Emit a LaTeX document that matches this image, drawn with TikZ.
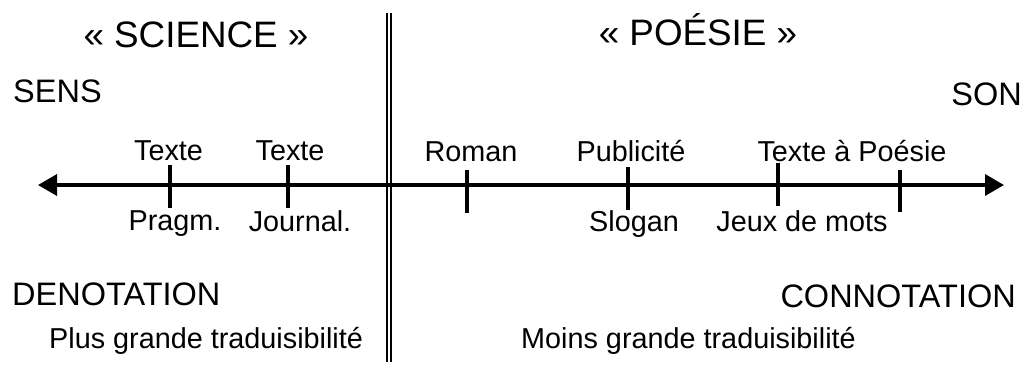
\documentclass[tikz,border=0pt]{standalone}
\usepackage{fontspec}
\setmainfont{Liberation Sans}
\usetikzlibrary{arrows.meta}
\begin{document}
\begin{tikzpicture}[x=1pt,y=-1pt,
  head/.style={font=\fontsize{36.8}{40}\selectfont, anchor=base, inner sep=0pt},
  big/.style={font=\fontsize{32.5}{36}\selectfont, inner sep=0pt},
  lbl/.style={font=\fontsize{28.8}{32}\selectfont, anchor=base, inner sep=0pt},
  trad/.style={font=\fontsize{28.8}{33}\selectfont, anchor=base west, inner sep=0pt},
  axisline/.style={line width=3.6pt, {Triangle[length=19pt,width=21pt]}-{Triangle[length=19pt,width=21pt]}},
  tick/.style={line width=3.4pt},
  sepline/.style={line width=1.6pt}]
\useasboundingbox (0,0) rectangle (1023,365);
% separator
\coordinate (s1t) at (386.7,13); \coordinate (s1b) at (386.7,362);
\coordinate (s2t) at (390.7,13); \coordinate (s2b) at (390.7,362);
\draw[sepline] (s1t) -- (s1b);
\draw[sepline] (s2t) -- (s2b);
% axis
\coordinate (axl) at (38,185);
\coordinate (axr) at (1004,185);
\draw[axisline] (axl) -- (axr);
% ticks
\foreach \n/\x/\a/\b in {t1/170/165/208, t2/288/165/208, t3/467/170/213, t4/628/167/210, t5/778/163/206, t6/900/170/212}{
  \coordinate (\n a) at (\x,\a);
  \coordinate (\n b) at (\x,\b);
  \draw[tick] (\n a) -- (\n b);
}
% headings
\node[head] (sci) at (196,47) {« SCIENCE »};
\node[head] (poe) at (698,45) {« POÉSIE »};
\node[big, anchor=base west] (sens) at (13,102) {SENS};
\node[big, anchor=base east] (son) at (1022,105) {SON};
\node[big, anchor=base west] (deno) at (12,305) {DENOTATION};
\node[big, anchor=base east] (conno) at (1016,307) {CONNOTATION};
% labels
\node[lbl] (l1) at (168.5,160) {Texte};
\node[lbl] (l2) at (290,160) {Texte};
\node[lbl] (l3) at (175,230) {Pragm.};
\node[lbl] (l4) at (300,231) {Journal.};
\node[lbl] (l5) at (471,161) {Roman};
\node[lbl] (l6) at (631,161) {Publicité};
\node[lbl] (l7) at (852,161) {Texte à Poésie};
\node[lbl] (l8) at (634,231) {Slogan};
\node[lbl] (l9) at (802,231) {Jeux de mots};
% bottom
\node[trad] (plus) at (49,348) {Plus grande traduisibilité};
\node[trad] (moins) at (521,348) {Moins grande traduisibilité};
\end{tikzpicture}
\end{document}
